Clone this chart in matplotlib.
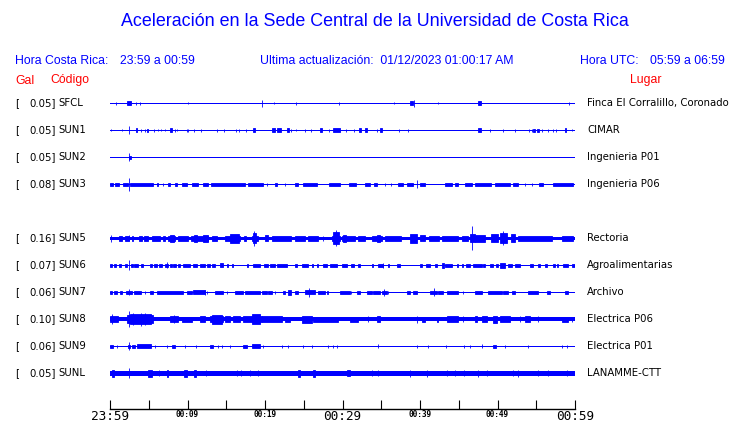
import matplotlib
matplotlib.use("Agg")
import matplotlib.pyplot as plt
from matplotlib.transforms import blended_transform_factory

# station table (SUN4 has no trace, its slot stays empty)
codes = ['SFCL', 'SUN1', 'SUN2', 'SUN3', 'SUN4', 'SUN5', 'SUN6', 'SUN7', 'SUN8', 'SUN9', 'SUNL']
gal = [0.05, 0.05, 0.05, 0.08, None, 0.16, 0.07, 0.06, 0.10, 0.06, 0.05]
places = ['Finca El Corralillo, Coronado', 'CIMAR', 'Ingenieria P01', 'Ingenieria P06', '',
          'Rectoria', 'Agroalimentarias', 'Archivo', 'Electrica P06', 'Electrica P01', 'LANAMME-CTT']

# background noise level of each trace
base_amp = [0.5, 0.6, 0.5, 0.6, 0, 1.6, 0.5, 0.5, 2.0, 0.6, 2.2]

tick_minutes = list(range(0, 61, 5))
tick_labels = ['23:59', '', '00:09', '', '00:19', '', '00:29', '', '00:39', '', '00:49', '', '00:59']
big_labels = ['23:59', '00:29', '00:59']

# events per trace: (start minute, end minute, amplitude)
sfcl_ev = [(0.73, 0.73, 1.5), (2.24, 2.67, 2), (3.31, 3.31, 1.5), (3.83, 3.83, 1.5), (10.1, 10.1, 1),
           (19.66, 19.66, 3.5), (21.2, 21.2, 1), (24.0, 24.0, 1.2), (29.6, 29.6, 1.5), (36.7, 36.7, 1),
           (38.7, 39.1, 2), (39.27, 39.27, 3.5), (42.3, 42.3, 1), (47.5, 47.9, 2), (59.2, 59.2, 1.5)]

sun1_ev = [(0.1, 0.1, 1), (1.5, 1.5, 1), (2.49, 2.49, 4), (3.3, 3.5, 2), (4.0, 4.0, 1.5), (4.5, 4.5, 1.5),
           (4.8, 4.95, 1.5), (5.7, 5.7, 1.5), (6.2, 6.2, 1), (6.6, 6.6, 1), (7.1, 7.1, 1), (7.7, 7.96, 2),
           (8.4, 8.4, 1.5), (8.7, 8.7, 1), (9.9, 9.9, 1.5), (10.1, 10.1, 1.5), (10.9, 10.9, 1.5),
           (11.8, 11.8, 1.5), (13.8, 13.8, 1.5), (14.75, 14.75, 1.5), (16.2, 16.2, 1.5), (16.6, 16.6, 1.5),
           (17.6, 17.6, 1.5), (18.5, 18.7, 2), (20.9, 21.3, 2), (21.5, 22.0, 2), (22.9, 23.1, 2),
           (23.4, 23.4, 1.5), (24.0, 24.0, 1), (25.2, 25.2, 1.5), (25.9, 25.9, 1.5), (27.1, 27.3, 2),
           (28.3, 28.3, 1.5), (28.8, 29.7, 2), (30.5, 30.5, 1.5), (31.5, 31.5, 1.5), (32.1, 32.4, 2),
           (32.9, 33.2, 2), (34.4, 34.4, 1.5), (34.8, 35.05, 2), (37.3, 37.3, 1.5), (38.5, 38.5, 1.5),
           (47.5, 47.9, 2), (49.0, 49.0, 1.5), (50.75, 50.75, 1.5), (52.3, 52.3, 1.5), (54.1, 54.1, 1.5),
           (54.4, 54.4, 1.5), (54.6, 54.9, 1.5), (55.1, 55.3, 1.5), (55.8, 55.8, 1.5), (56.5, 56.5, 1.5),
           (57.2, 57.2, 1.5), (57.5, 57.5, 1.5), (58.7, 58.9, 2), (59.6, 59.6, 1)]

sun2_ev = [(2.49, 2.49, 4), (2.5, 2.7, 1.2)]

sun3_ev = [(0, 0.4, 1.5), (0.65, 1.16, 1.5), (1.7, 2.3, 1.5), (2.6, 5.6, 1.5), (2.49, 2.49, 6.3),
           (6.0, 6.2, 1.5), (6.9, 6.9, 1.5), (7.5, 7.8, 1.5), (8.4, 8.7, 1.5), (9.3, 9.9, 1.5),
           (10.6, 11.3, 1.5), (12.0, 12.7, 1.5), (13.0, 17.4, 1.5), (17.8, 19.8, 1.5), (20.2, 20.2, 1.5),
           (21.3, 21.6, 1.5), (22.6, 22.6, 1.5), (23.9, 24.3, 1.5), (24.9, 26.7, 1.5), (28.2, 29.7, 1.5),
           (30.8, 31.8, 1.5), (32.9, 33.5, 1.5), (34.1, 34.4, 1.5), (35.5, 35.5, 1.5), (36.3, 36.3, 1.5),
           (37.2, 37.8, 1.5), (38.3, 39.1, 1.5), (39.57, 39.57, 4), (40.0, 40.6, 1.5), (43.2, 44.1, 1.5),
           (44.5, 44.9, 1.5), (45.8, 46.7, 1.5), (47.1, 49.2, 1.5), (49.7, 51.6, 1.5), (52.0, 52.7, 1.5),
           (53.5, 53.5, 1.5), (54.4, 54.4, 1.5), (55.3, 55.9, 1.5), (57.2, 59.8, 1.5)]

sun5_ev = [(0.1, 0.1, 3.5), (1.1, 1.5, 2.5), (1.9, 2.4, 2.5), (2.49, 2.49, 3), (2.8, 3.0, 2.5),
           (3.7, 4.1, 2.5), (4.4, 4.9, 2.5), (5.4, 6.4, 2.5), (6.9, 7.1, 2.5), (7.5, 8.4, 2.5),
           (7.7, 8.2, 3.8), (8.8, 10.1, 2.5), (10.5, 12.7, 2.5), (10.8, 11.2, 3.5), (12.0, 12.7, 3.5),
           (13.1, 13.8, 2.5), (14.8, 16.8, 2.5), (15.5, 16.6, 4.8), (17.3, 17.6, 2.5), (18.3, 19.1, 2.5),
           (18.5, 18.9, 5), (18.62, 18.62, 7.8), (20.0, 20.4, 3), (20.9, 23.4, 2.5), (23.9, 25.2, 2.5),
           (25.6, 26.9, 2.5), (27.5, 27.5, 2.5), (28.6, 29.7, 2.5), (28.8, 29.5, 6), (29.1, 29.1, 8),
           (29.9, 31.6, 2.5), (30.1, 30.5, 3.5), (32.0, 32.9, 2.5), (33.8, 35.1, 2.5), (34.4, 34.8, 3.5),
           (35.5, 37.6, 2.5), (38.7, 39.6, 4.5), (40.0, 40.6, 3), (41.1, 42.4, 2.5), (42.8, 44.9, 2.5),
           (45.4, 46.2, 2.5), (46.45, 47.1, 4), (46.67, 46.67, 12), (47.1, 48.4, 3.5), (49.2, 50.0, 4),
           (50.3, 51.2, 5), (50.75, 50.75, 7), (51.7, 52.3, 4), (52.7, 57.0, 2.5), (58.3, 59.8, 2.5)]

sun6_ev = [(0, 0.22, 1.5), (0.56, 0.77, 1.5), (1.16, 1.42, 1.5), (1.94, 2.15, 1.5), (2.49, 2.49, 5),
           (2.71, 3.01, 1.5), (3.14, 3.66, 1.5), (4.0, 4.3, 1.5), (5.16, 5.38, 1.5), (5.72, 6.02, 1.5),
           (6.32, 6.67, 1.5), (7.1, 7.53, 1.5), (7.31, 7.31, 3), (7.74, 7.96, 1.5), (8.17, 8.47, 1.5),
           (8.73, 9.03, 1.5), (9.46, 10.32, 1.5), (10.75, 11.18, 1.5), (11.61, 12.26, 1.5),
           (12.47, 12.9, 1.5), (13.12, 13.55, 1.5), (14.19, 14.62, 2), (15.05, 15.27, 1.5),
           (15.7, 15.91, 1.5), (17.63, 17.85, 1.5), (18.49, 19.35, 1.5), (19.91, 20.43, 1.5),
           (20.65, 21.29, 1.5), (21.51, 22.8, 1.5), (23.87, 24.09, 1.5), (24.73, 25.59, 1.5),
           (26.02, 26.24, 1.5), (26.67, 26.88, 1.5), (27.53, 27.96, 1.5), (28.39, 29.25, 1.5),
           (29.89, 30.54, 1.5), (31.1, 31.53, 1.5), (32.04, 32.26, 1.5), (33.76, 33.98, 1.5),
           (34.54, 35.27, 1.5), (35.27, 35.27, 2.5), (35.83, 36.0, 1.5), (36.99, 37.42, 1.5),
           (40.0, 40.3, 1.5), (40.73, 41.29, 1.5), (41.94, 42.15, 1.5), (42.8, 43.14, 2.5),
           (43.23, 44.09, 1.5), (44.73, 44.95, 1.5), (45.38, 45.59, 1.5), (45.89, 46.45, 1.5),
           (46.88, 47.96, 1.5), (48.17, 48.39, 1.5), (49.03, 49.46, 1.5), (49.76, 50.02, 1.5),
           (50.32, 50.97, 2.5), (51.4, 51.83, 1.5), (52.26, 52.9, 1.5), (54.19, 54.62, 1.5),
           (55.27, 55.48, 1.5), (56.13, 56.34, 1.5), (57.2, 57.41, 1.5), (57.63, 57.85, 1.5),
           (58.49, 59.14, 1.5), (59.57, 60, 1.5)]

sun7_ev = [(0, 0.3, 1.5), (0.5, 0.9, 1.5), (1.3, 1.5, 1.5), (2.02, 2.8, 1.5), (2.49, 2.49, 3),
           (3.14, 4.0, 1.5), (4.52, 4.52, 1.5), (5.16, 5.59, 1.5), (6.02, 9.46, 1.5), (9.89, 10.54, 1.5),
           (10.67, 12.26, 2), (12.26, 12.26, 2.5), (12.47, 12.47, 1.5), (13.55, 14.62, 1.5),
           (15.05, 15.05, 1.5), (16.13, 17.2, 1.5), (17.42, 19.35, 1.5), (19.57, 20.22, 1.5),
           (20.43, 20.86, 1.5), (21.29, 21.29, 1.5), (22.28, 22.58, 1.5), (22.92, 23.35, 2.5),
           (23.87, 24.3, 1.5), (25.16, 26.45, 2), (25.72, 25.72, 4.5), (26.88, 27.74, 1.5),
           (27.96, 28.17, 1.5), (29.68, 30.97, 1.5), (31.1, 31.1, 1.5), (31.83, 32.26, 1.5),
           (33.12, 33.76, 1.5), (33.98, 34.84, 1.5), (35.05, 35.7, 1.5), (35.4, 35.4, 3.5),
           (35.91, 35.91, 1.5), (38.28, 38.71, 1.5), (39.14, 39.57, 1.5), (41.29, 42.15, 1.5),
           (41.85, 41.85, 4), (42.37, 43.01, 1.5), (43.44, 44.95, 1.5), (45.59, 45.59, 1.5),
           (47.1, 47.96, 1.5), (48.82, 50.54, 1.5), (50.75, 51.4, 1.5), (51.83, 52.26, 1.5),
           (53.89, 55.27, 1.5), (56.34, 56.77, 1.5), (58.71, 59.14, 1.5)]

sun8_ev = [(0, 1.08, 3), (0.3, 0.3, 5), (2.15, 5.59, 4), (2.6, 5.3, 5), (2.49, 2.49, 8), (3.0, 3.0, 6),
           (4.0, 4.0, 6.5), (4.5, 4.5, 6), (7.74, 8.82, 3), (8.2, 8.2, 4), (9.25, 10.54, 2.8),
           (11.61, 12.26, 3), (12.9, 14.62, 3), (13.12, 14.41, 4.5), (14.84, 15.48, 3), (15.91, 16.77, 3),
           (17.2, 19.57, 3), (18.28, 19.35, 5), (19.57, 22.15, 3), (22.58, 23.23, 2.8), (24.73, 26.02, 3.5),
           (26.24, 29.46, 2.8), (30.97, 32.04, 2.8), (33.33, 33.33, 3), (34.41, 34.84, 3),
           (39.57, 39.57, 3.5), (40.22, 40.65, 2.8), (42.15, 42.37, 2.8), (43.44, 44.95, 3),
           (45.59, 45.59, 3), (47.1, 47.31, 3), (47.96, 48.6, 3), (49.46, 49.89, 3.8), (50.32, 51.61, 3),
           (52.9, 52.9, 3), (53.55, 54.19, 3), (55.27, 55.27, 3), (58.28, 59.14, 2.8), (59.57, 59.57, 2.8)]

sun9_ev = [(0, 0.43, 1.5), (0.86, 0.86, 1.2), (2.49, 2.49, 4), (2.37, 2.58, 1.5), (2.8, 3.23, 1.5),
           (3.44, 5.25, 2), (5.81, 5.81, 1.2), (7.31, 7.31, 1.5), (7.96, 8.39, 1.5), (9.68, 9.68, 1.2),
           (11.05, 11.05, 1.5), (12.9, 13.33, 1.5), (13.98, 13.98, 1.2), (14.49, 14.49, 1.2),
           (15.48, 15.48, 1.2), (17.2, 17.63, 1.5), (18.28, 19.35, 2), (19.78, 19.78, 1.5),
           (22.15, 22.15, 1.2), (22.92, 22.92, 1.2), (24.95, 24.95, 1.5), (26.02, 26.02, 1.5),
           (28.17, 28.17, 1.2), (28.82, 28.82, 1.2), (29.25, 29.25, 1.5), (34.54, 34.54, 2),
           (39.57, 39.57, 1.2), (41.08, 41.08, 1.2), (43.35, 43.35, 1.2), (45.72, 45.72, 1.2),
           (46.45, 46.45, 1.2), (47.96, 47.96, 2), (49.46, 49.76, 1.5), (50.97, 50.97, 1.5),
           (53.98, 53.98, 1.2), (58.28, 58.28, 1.2), (58.92, 58.92, 1.2)]

sunl_ev = [(0.22, 0.56, 3.5), (2.49, 2.49, 5), (4.95, 5.38, 3.5), (6.32, 6.32, 3), (7.31, 7.53, 3.5),
           (9.55, 9.89, 3.5), (10.88, 11.05, 3.5), (12.39, 12.39, 3), (16.34, 16.34, 3), (16.86, 16.86, 3),
           (18.06, 18.06, 3), (19.14, 19.14, 3), (24.3, 24.52, 3.5), (26.24, 26.45, 3.5), (30.54, 30.97, 3),
           (33.76, 33.76, 3), (34.62, 34.62, 3), (38.71, 38.71, 3.5), (40.95, 40.95, 3.5),
           (43.53, 43.53, 3), (44.52, 44.52, 3), (45.72, 45.72, 3), (47.53, 47.53, 3.5), (48.6, 48.6, 3),
           (52.04, 52.04, 3), (52.69, 52.69, 3.5), (55.27, 55.27, 3), (56.56, 56.56, 3), (58.92, 58.92, 3)]

events = [sfcl_ev, sun1_ev, sun2_ev, sun3_ev, [], sun5_ev, sun6_ev, sun7_ev, sun8_ev, sun9_ev, sunl_ev]

DURATION = 60
AMP_SCALE = 1 / 27.0   # amplitude units -> row spacing
BLUE = '#0000ff'
RED = '#ff0000'
W, H = 740, 423

fig = plt.figure(figsize=(7.4, 4.23), dpi=100)
ax = fig.add_axes([110 / W, 1 - 409 / H, 465 / W, 319 / H])
ax.set_xlim(0, DURATION)
ax.set_ylim(11.32, -0.493)

for row, code in enumerate(codes):
    if gal[row] is None:
        continue
    b = base_amp[row] * AMP_SCALE
    ax.bar(0, 2 * b, width=DURATION, bottom=row - b, align='edge', color=BLUE, linewidth=0)
    for s, e, a in events[row]:
        h = a * AMP_SCALE
        ax.bar(s, 2 * h, width=e - s, bottom=row - h, align='edge',
               color=BLUE, edgecolor=BLUE, linewidth=0.6)

# labels left and right of each trace
tr = blended_transform_factory(fig.transFigure, ax.transData)
for row, code in enumerate(codes):
    if gal[row] is None:
        continue
    kw = dict(transform=tr, va='center', fontsize=7.3, family='DejaVu Sans', color='black')
    ax.text(15 / W, row, '[', ha='left', **kw)
    ax.text(55.5 / W, row, f'{gal[row]:.2f}]', ha='right', **kw)
    ax.text(58 / W, row, code, ha='left', **kw)
    ax.text(587 / W, row, places[row], ha='left', **kw)

# time axis
for side in ['top', 'left', 'right']:
    ax.spines[side].set_visible(False)
ax.spines['bottom'].set_linewidth(1)
ax.set_yticks([])
ax.set_xticks(tick_minutes, tick_labels)
ax.tick_params(axis='x', direction='in', length=6.5, width=0.8, pad=1)
for lab in ax.get_xticklabels():
    lab.set_fontfamily('DejaVu Sans Mono')
    if lab.get_text() in big_labels:
        lab.set_fontsize(9.2)
    else:
        lab.set_fontsize(5.6)
        lab.set_fontweight('bold')

# header texts
def ftext(x, y, s, color=BLUE, size=8.8, ha='left'):
    fig.text(x / W, 1 - y / H, s, color=color, fontsize=size, ha=ha, va='center',
             family='Liberation Sans')

ftext(375, 22, 'Aceleración en la Sede Central de la Universidad de Costa Rica', size=12.9, ha='center')
ftext(15, 60.5, 'Hora Costa Rica:')
ftext(120, 60.5, '23:59 a 00:59')
ftext(260, 60.5, 'Ultima actualización:  01/12/2023 01:00:17 AM')
ftext(580.5, 60.5, 'Hora UTC:')
ftext(650, 60.5, '05:59 a 06:59')
ftext(15, 80.5, 'Gal', color=RED)
ftext(50, 80.5, 'Código', color=RED)
ftext(630, 80.5, 'Lugar', color=RED)

fig.savefig('out.png', dpi=100)
